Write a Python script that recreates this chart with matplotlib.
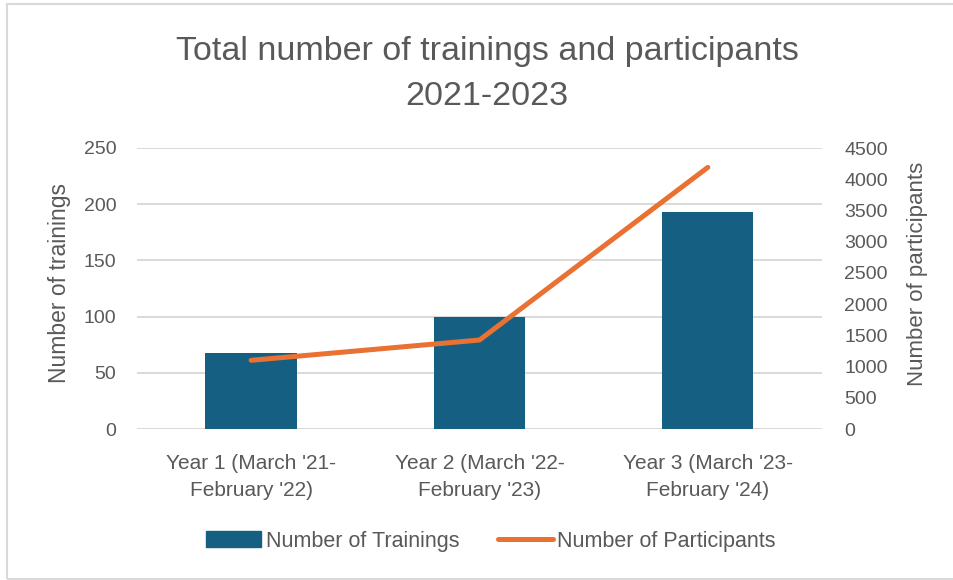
import matplotlib
matplotlib.use("Agg")
import matplotlib.pyplot as plt
from matplotlib.patches import Rectangle
from matplotlib.lines import Line2D

categories = ["Year 1 (March '21-\nFebruary '22)",
              "Year 2 (March '22-\nFebruary '23)",
              "Year 3 (March '23-\nFebruary '24)"]
trainings = [68, 100, 193]
participants = [1100, 1425, 4190]
left_ticks = [0, 50, 100, 150, 200, 250]
right_ticks = [0, 500, 1000, 1500, 2000, 2500, 3000, 3500, 4000, 4500]

bar_color = "#156082"
line_color = "#E97132"
text_color = "#595959"
grid_color = "#D9D9D9"

plt.rcParams['font.family'] = ['Liberation Sans', 'DejaVu Sans']

fig = plt.figure(figsize=(9.54, 5.8), dpi=100)
fig.patches.append(Rectangle((7 / 954, 1 / 580), 1.0, 575 / 580, transform=fig.transFigure,
                             fill=False, edgecolor="#D9D9D9", linewidth=1.5))

ax = fig.add_axes([137 / 954, 1 - 429 / 580, 685 / 954, 281 / 580])
x = list(range(len(categories)))
ax.bar(x, trainings, width=0.4, color=bar_color, zorder=2)
ax.set_xlim(-0.5, 2.5)
ax.set_ylim(0, 250)
ax.set_yticks(left_ticks)
ax.set_xticks(x)
ax.set_xticklabels(categories, linespacing=1.55)
ax.grid(axis='y', color=grid_color, linewidth=1.4, zorder=0)
for s in ax.spines.values():
    s.set_visible(False)
ax.tick_params(axis='both', length=0, colors=text_color, labelsize=14)
ax.tick_params(axis='x', pad=18, labelsize=15)
ax.tick_params(axis='y', pad=15)

ax2 = ax.twinx()
ax2.plot(x, participants, color=line_color, linewidth=3.6, solid_capstyle='round', zorder=3)
ax2.set_ylim(0, 4500)
ax2.set_yticks(right_ticks)
for s in ax2.spines.values():
    s.set_visible(False)
ax2.tick_params(axis='y', length=0, colors=text_color, labelsize=14, pad=16)

fig.text(60 / 954, 1 - 283 / 580, "Number of trainings", rotation=90, ha='center', va='center',
         fontsize=16.5, color=text_color)
fig.text(918 / 954, 1 - 274 / 580, "Number of participants", rotation=90, ha='center', va='center',
         fontsize=16, color=text_color)

fig.text(487 / 954, 1 - 74 / 580, "Total number of trainings and participants\n2021-2023",
         ha='center', va='center', fontsize=24.5, color=text_color, linespacing=1.6)

handles = [Rectangle((0, 0), 1, 1, color=bar_color),
           Line2D([0], [0], color=line_color, linewidth=3.6, solid_capstyle='round')]
fig.legend(handles, ["Number of Trainings", "Number of Participants"],
           loc='center', bbox_to_anchor=(491 / 954, 1 - 541 / 580), ncol=2, frameon=False,
           fontsize=15.5, labelcolor=text_color, handlelength=2.55, handletextpad=0.2,
           columnspacing=1.8)

fig.savefig("out.png", dpi=100)
